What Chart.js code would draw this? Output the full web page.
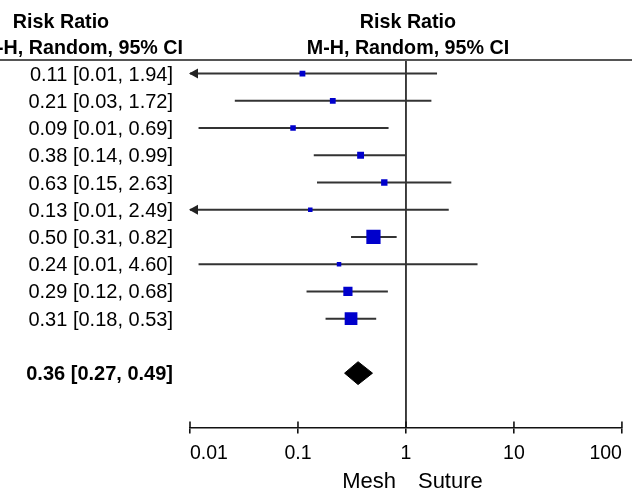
<!DOCTYPE html>
<html>
<head>
<meta charset="utf-8">
<script src="https://cdn.jsdelivr.net/npm/chart.js@4/dist/chart.umd.min.js"></script>
<style>
  html, body { margin: 0; padding: 0; background: #fff; }
  #wrap { width: 632px; height: 490px; position: relative; }
</style>
</head>
<body>
<div id="wrap"><canvas id="c"></canvas></div>
<script>
// ---- data ----
const riskRatio = [0.11, 0.21, 0.09, 0.38, 0.63, 0.13, 0.50, 0.24, 0.29, 0.31];
const ciLower   = [0.006, 0.026, 0.012, 0.14, 0.15, 0.007, 0.31, 0.012, 0.12, 0.18];
const ciUpper   = [1.94, 1.72, 0.69, 0.99, 2.63, 2.49, 0.82, 4.60, 0.68, 0.53];
const weights   = [5, 5, 4.5, 7, 6, 3, 30, 3, 12.5, 24];
const pooledEstimate = 0.36;
const pooledLower = 0.27;
const pooledUpper = 0.49;
const tickValues = [0.01, 0.1, 1, 10, 100];
const tickLabels = ['0.01', '0.1', '1', '10', '100'];
const headerLines = ['Risk Ratio', 'M-H, Random, 95% CI'];
const axisSides = ['Mesh', 'Suture'];

// ---- layout constants ----
const X_MIN = 0.01, X_MAX = 100;
const Y_MIN = -0.5, Y_MAX = 13;
const POOLED_ROW = riskRatio.length + 1;
const DIAMOND_HALF = 0.42;
const SQ_SCALE = 2.6;
const FONT = "'Liberation Sans', Arial, sans-serif";

const fmt = v => v.toFixed(2);
const rowLabel = (e, l, u) => `${fmt(e)} [${fmt(l)}, ${fmt(u)}]`;

const ciDatasets = riskRatio.map((_, i) => ({
  type: 'line',
  data: [{x: Math.max(ciLower[i], X_MIN), y: i}, {x: Math.min(ciUpper[i], X_MAX), y: i}],
  borderColor: '#333',
  borderWidth: 2,
  pointRadius: 0,
  order: 3
}));

const datasets = [
  {
    type: 'line',
    data: [{x: 1, y: Y_MIN}, {x: 1, y: Y_MAX}],
    borderColor: '#111',
    borderWidth: 1.6,
    pointRadius: 0,
    order: 4
  },
  ...ciDatasets,
  {
    type: 'scatter',
    data: riskRatio.map((v, i) => ({x: v, y: i})),
    pointStyle: 'rect',
    pointRadius: weights.map(w => SQ_SCALE * Math.sqrt(w) / Math.SQRT2),
    pointBackgroundColor: '#0000cc',
    pointBorderWidth: 0,
    borderWidth: 0,
    order: 1
  },
  {
    type: 'line',
    data: [
      {x: pooledLower, y: POOLED_ROW},
      {x: pooledEstimate, y: POOLED_ROW - DIAMOND_HALF},
      {x: pooledUpper, y: POOLED_ROW},
      {x: pooledEstimate, y: POOLED_ROW + DIAMOND_HALF},
      {x: pooledLower, y: POOLED_ROW}
    ],
    borderColor: '#000',
    backgroundColor: '#000',
    borderWidth: 1,
    fill: 'shape',
    pointRadius: 0,
    tension: 0,
    order: 1
  }
];

const overlay = {
  id: 'overlay',
  afterDraw(chart) {
    const {ctx, scales: {x, y}, chartArea} = chart;
    ctx.save();
    // header rule
    ctx.strokeStyle = '#555';
    ctx.lineWidth = 2;
    ctx.beginPath();
    ctx.moveTo(0, chartArea.top);
    ctx.lineTo(chart.width, chartArea.top);
    ctx.stroke();

    // upper half of axis ticks
    ctx.strokeStyle = '#111';
    ctx.lineWidth = 1.6;
    tickValues.forEach(v => {
      const px = x.getPixelForValue(v);
      ctx.beginPath();
      ctx.moveTo(px, chartArea.bottom);
      ctx.lineTo(px, chartArea.bottom - 6);
      ctx.stroke();
    });

    // arrowheads for truncated intervals
    ctx.fillStyle = '#222';
    riskRatio.forEach((_, i) => {
      if (ciLower[i] < X_MIN) {
        const px = x.getPixelForValue(X_MIN);
        const py = y.getPixelForValue(i);
        ctx.beginPath();
        ctx.moveTo(px - 1, py);
        ctx.lineTo(px + 8, py - 5);
        ctx.lineTo(px + 8, py + 5);
        ctx.closePath();
        ctx.fill();
      }
    });

    // headers
    ctx.fillStyle = '#000';
    ctx.font = `bold 19.7px ${FONT}`;
    ctx.textBaseline = 'alphabetic';
    const cx = x.getPixelForValue(1);
    ctx.textAlign = 'center';
    ctx.fillText(headerLines[0], cx + 2, 28);
    ctx.fillText(headerLines[1], cx + 2, 54);
    ctx.fillText(headerLines[0], 61, 28);
    ctx.textAlign = 'right';
    ctx.fillText(headerLines[1], 183, 54);

    // row labels
    ctx.font = `20px ${FONT}`;
    ctx.textAlign = 'right';
    riskRatio.forEach((v, i) => {
      ctx.fillText(rowLabel(v, ciLower[i], ciUpper[i]), 173, y.getPixelForValue(i) + 7);
    });
    ctx.font = `bold 20px ${FONT}`;
    ctx.fillText(rowLabel(pooledEstimate, pooledLower, pooledUpper), 173, y.getPixelForValue(POOLED_ROW) + 7);

    // favours labels
    ctx.font = `22px ${FONT}`;
    ctx.textAlign = 'right';
    ctx.fillText(axisSides[0], cx - 10, 488);
    ctx.textAlign = 'left';
    ctx.fillText(axisSides[1], cx + 12, 488);
    ctx.restore();
  }
};

new Chart(document.getElementById('c'), {
  data: { datasets },
  options: {
    responsive: true,
    maintainAspectRatio: false,
    animation: false,
    layout: { padding: { left: 190, right: 1, top: 60, bottom: 17 } },
    plugins: { legend: { display: false }, tooltip: { enabled: false } },
    scales: {
      x: {
        type: 'logarithmic',
        min: X_MIN,
        max: X_MAX,
        afterBuildTicks: s => { s.ticks = tickValues.map(v => ({value: v})); },
        ticks: {
          callback: (v) => { const k = tickValues.indexOf(v); return k >= 0 ? tickLabels[k] : ''; },
          align: 'inner',
          color: '#000',
          font: { family: FONT, size: 19.5 },
          padding: 8,
          maxRotation: 0,
          autoSkip: false
        },
        grid: { display: true, drawOnChartArea: false, tickLength: 6, color: '#111', lineWidth: 1.6 },
        border: { display: true, color: '#111', width: 1.6 }
      },
      y: {
        type: 'linear',
        min: Y_MIN,
        max: Y_MAX,
        reverse: true,
        display: false
      }
    }
  },
  plugins: [overlay]
});
</script>
</body>
</html>
